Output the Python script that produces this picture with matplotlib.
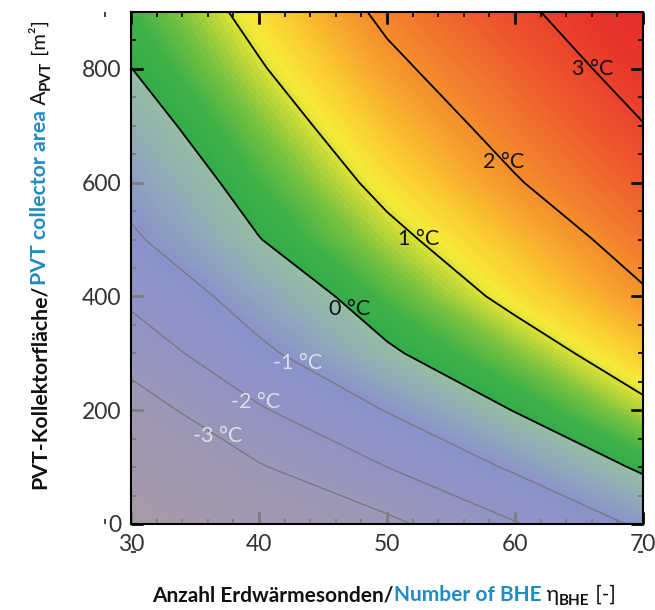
import numpy as np
import matplotlib
matplotlib.use('Agg')
import matplotlib.pyplot as plt
from matplotlib.ticker import MultipleLocator
from matplotlib.transforms import IdentityTransform
from matplotlib.lines import TICKUP, TICKDOWN, TICKLEFT, TICKRIGHT

plt.rcParams['font.family'] = ['Lato', 'DejaVu Sans']

# grid of the parameter study
n_bhe = [30, 40, 50, 60, 70]
a_pvt = [0, 100, 200, 300, 400, 500, 600, 700, 800, 900]

# temperature [°C] along a_pvt, one list per number of BHE
temp_n30 = [-5.3, -4.5, -3.5, -2.59, -1.80, -1.12, -0.71, -0.35, -0.01, 0.29]
temp_n40 = [-4.1, -3.08, -2.1, -1.18, -0.56, -0.02, 0.31, 0.62, 0.94, 1.22]
temp_n50 = [-3.22, -2.0, -0.96, -0.1, 0.38, 0.82, 1.19, 1.52, 1.84, 2.14]
temp_n60 = [-2.06, -0.86, 0.03, 0.64, 1.18, 1.55, 1.95, 2.26, 2.55, 2.85]
temp_n70 = [-0.83, 0.12, 0.85, 1.41, 1.92, 2.29, 2.64, 2.98, 3.29, 3.59]

# contour labels
lab_temp = [3, 2, 1, 0, -1, -2, -3]
lab_x = [65.8, 59.0, 52.4, 47.0, 43.0, 39.7, 36.6]
lab_y = [794, 634, 499, 376, 283, 214, 148]

# colour scale (negative part sits under a whitish veil)
col_t = [-6.0, -5.0, -3.5, -2.0, -1.0, -0.5, -0.001,
         0.0, 0.3, 0.6, 0.9, 1.1, 1.4, 1.8, 2.2, 2.7, 3.2, 4.0]
col_rgb = [(125, 87, 118), (115, 85, 120), (100, 82, 142), (65, 70, 187),
           (47, 67, 200), (62, 120, 162), (72, 172, 100),
           (52, 172, 74), (64, 178, 72), (115, 192, 64), (192, 216, 56),
           (246, 234, 56), (250, 205, 48), (247, 160, 45), (242, 125, 45),
           (237, 85, 45), (232, 55, 43), (228, 35, 40)]
veil = (200 / 255, 200 / 255, 205 / 255)
veil_alpha = 0.6
blue = '#1e8cc6'

X, Y = np.meshgrid(n_bhe, a_pvt)
T = np.column_stack([temp_n30, temp_n40, temp_n50, temp_n60, temp_n70])

fig = plt.figure(figsize=(6.55, 6.10), dpi=100)
ax = fig.add_axes([131 / 655, 1 - 524 / 610, 512 / 655, 512 / 610])

levels = np.arange(-6.0, 4.0001, 0.05)
mids = (levels[:-1] + levels[1:]) / 2
rgb = np.array(col_rgb) / 255
band_cols = np.column_stack([np.interp(mids, col_t, rgb[:, i]) for i in range(3)])
ax.contourf(X, Y, T, levels=levels, colors=band_cols, zorder=0.5)

# negative isolines, washed out by the veil
cs_neg = ax.contour(X, Y, T, levels=[-3, -2, -1], colors='k', linewidths=0.9,
                    linestyles='solid', zorder=2)
pos = [(x, y) for t, x, y in zip(lab_temp, lab_x, lab_y) if t < 0]
txt = ax.clabel(cs_neg, manual=pos, inline=False, fmt=lambda v: f'{v:.0f} °C',
                colors='white', fontsize=15.5)
for t in txt:
    t.set_rotation(0)
    t.set_zorder(2.2)

# veil over everything below 0 °C (ticks included)
ax.contourf(X, Y, T, levels=[-10, 0], colors=[veil], alpha=veil_alpha, zorder=3)

cs_pos = ax.contour(X, Y, T, levels=[0, 1, 2, 3], colors='k', linewidths=1.3,
                    linestyles='solid', zorder=4)
pos = [(x, y) for t, x, y in zip(lab_temp, lab_x, lab_y) if t >= 0]
txt = ax.clabel(cs_pos, manual=pos, inline=False, fmt=lambda v: f'{v:.0f} °C',
                colors='#111111', fontsize=15.5)
for t in txt:
    t.set_rotation(0)
    t.set_zorder(5)

ax.set_xlim(30, 70)
ax.set_ylim(0, 900)
ax.set_xticks([30, 40, 50, 60, 70])
ax.set_yticks([0, 200, 400, 600, 800])
ax.xaxis.set_minor_locator(MultipleLocator(2))
ax.yaxis.set_minor_locator(MultipleLocator(50))
ax.tick_params(which='both', direction='in', top=True, right=True, color='#111111')
ax.tick_params(which='major', length=8.5, width=1.8, labelsize=16.5, pad=7, labelcolor='#333333')
ax.tick_params(which='minor', length=3.5, width=1.1)
ax.xaxis.set_zorder(2.5)
ax.yaxis.set_zorder(2.5)
for s in ax.spines.values():
    s.set_linewidth(1.5)
    s.set_zorder(5)

# tick marks again as plain markers on all four sides, from the axis locators
for locs, size, width in [(ax.get_xticks(), 8.5, 1.8), (ax.xaxis.get_minorticklocs(), 3.5, 1.1)]:
    for yy, mk in [(0, TICKUP), (1, TICKDOWN)]:
        ax.plot(locs, np.full(len(locs), yy), ls='none', marker=mk, ms=size, mew=width,
                color='#111111', transform=ax.get_xaxis_transform(), clip_on=False, zorder=2.5)
for locs, size, width in [(ax.get_yticks(), 8.5, 1.8), (ax.yaxis.get_minorticklocs(), 3.5, 1.1)]:
    for xx, mk in [(0, TICKRIGHT), (1, TICKLEFT)]:
        ax.plot(np.full(len(locs), xx), locs, ls='none', marker=mk, ms=size, mew=width,
                color='#111111', transform=ax.get_yaxis_transform(), clip_on=False, zorder=2.5)
ax.set_xlim(30, 70)
ax.set_ylim(0, 900)

fig.canvas.draw()


def chain_label(parts, base, start, vertical=False):
    # multi-coloured axis label, pieces placed one after the other (pixels)
    r = fig.canvas.get_renderer()
    pos = start
    for s, color, weight, size, shift in parts:
        kw = dict(color=color, fontweight=weight, fontsize=size, ha='left',
                  va='baseline', transform=IdentityTransform())
        if vertical:
            t = fig.text(base + shift, pos, s, rotation=90, rotation_mode='anchor', **kw)
            pos = t.get_window_extent(r).y1
        else:
            t = fig.text(pos, base - shift, s, **kw)
            pos = t.get_window_extent(r).x1


chain_label([('Anzahl Erdwärmesonden/', '#111111', 'bold', 15, 0),
             ('Number of BHE', blue, 'bold', 15, 0),
             (' η', '#111111', 'normal', 15.5, 0),
             ('BHE', '#111111', 'bold', 11, 4),
             (' [-]', '#111111', 'normal', 15, 0)], 9, 152)

chain_label([('PVT-Kollektorfläche/', '#111111', 'bold', 15.3, 0),
             ('PVT collector area', blue, 'bold', 15.3, 0),
             (' A', '#111111', 'normal', 15, 0),
             ('PVT', '#111111', 'bold', 11, 4),
             (' [m²]', '#111111', 'normal', 14.5, 0)], 46, 121, vertical=True)

fig.canvas.draw()
fig.savefig('out.png', dpi=100)
